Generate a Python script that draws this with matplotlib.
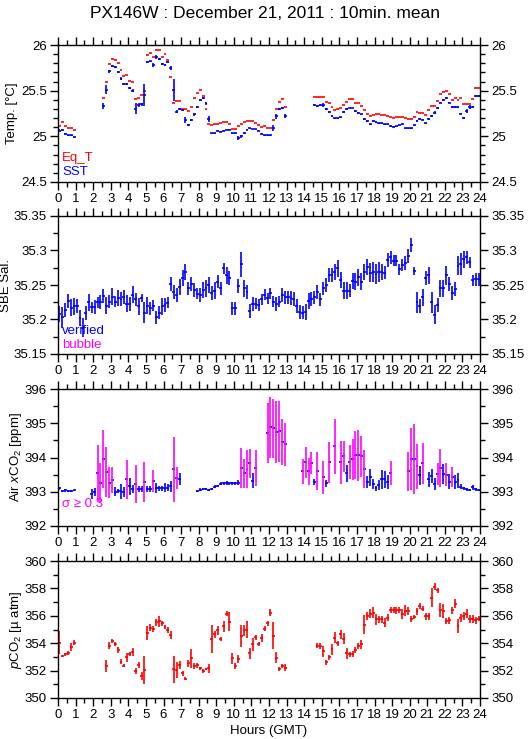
import numpy as np
import matplotlib
matplotlib.use("Agg")
import matplotlib.pyplot as plt
from matplotlib.ticker import MultipleLocator, FuncFormatter

plt.rcParams['font.family'] = ['Liberation Sans', 'DejaVu Sans']
plt.rcParams['mathtext.fontset'] = 'custom'
plt.rcParams['mathtext.rm'] = 'Liberation Sans'
plt.rcParams['mathtext.it'] = 'Liberation Sans:italic'

N = None
# 10-minute bins, 6 per hour (rows = hours 0..23)
sst = [
    25.06, 25.07, 25.03, 25.01, 25.01, 24.99,
    N, N, N, N, N, N,
    N, N, N, 25.33, 25.51, 25.71,
    25.77, 25.76, 25.70, 25.63, 25.57, 25.57,
    25.53, 25.50, 25.30, 25.34, 25.35, 25.45,
    25.81, 25.82, 25.78, 25.87, 25.85, 25.79,
    25.78, 25.81, 25.75, 25.51, 25.27, 25.30,
    25.29, 25.18, 25.12, 25.18, 25.24, 25.32,
    25.40, 25.42, 25.36, 25.19, 25.035, 25.035,
    25.06, 25.05, 25.06, 25.07, 25.07, 25.035,
    25.035, 24.98, 25.00, 25.035, 25.07, 25.09,
    25.08, 25.08, 25.06, 25.03, 25.01, 25.01,
    25.01, 25.09, 25.22, 25.30, 25.31, 25.22,
    N, N, N, N, N, N,
    N, N, N, 25.34, 25.33, 25.34,
    25.34, 25.30, 25.27, 25.22, 25.20, 25.20,
    25.21, 25.27, 25.30, 25.31, 25.31, 25.28,
    25.26, 25.24, 25.19, 25.17, 25.13, 25.17,
    25.16, 25.145, 25.145, 25.13, 25.13, 25.11,
    25.105, 25.11, 25.12, 25.13, 25.09, 25.09,
    25.09, 25.12, 25.17, 25.19, 25.18, 25.145,
    25.19, 25.22, 25.26, 25.31, 25.37, 25.40,
    25.42, 25.37, 25.32, 25.32, 25.32, 25.25,
    25.20, 25.28, 25.32, 25.32, 25.44, 25.44,
]
sst_sd = [
    0.015, 0.01, 0.01, 0.01, 0.01, 0.005,
    N, N, N, N, N, N,
    N, N, N, 0.03, 0.05, 0.02,
    0.01, 0.01, 0.01, 0.015, 0.01, 0.01,
    0.01, 0.02, 0.06, 0.02, 0.02, 0.12,
    0.01, 0.01, 0.02, 0.02, 0.01, 0.01,
    0.01, 0.01, 0.02, 0.12, 0.015, 0.01,
    0.01, 0.03, 0.01, 0.015, 0.02, 0.01,
    0.01, 0.01, 0.015, 0.03, 0.005, 0.005,
    0.005, 0.005, 0.005, 0.005, 0.005, 0.005,
    0.005, 0.02, 0.015, 0.01, 0.005, 0.005,
    0.005, 0.005, 0.005, 0.005, 0.005, 0.005,
    0.005, 0.03, 0.03, 0.015, 0.01, 0.02,
    N, N, N, N, N, N,
    N, N, N, 0.01, 0.01, 0.01,
    0.02, 0.01, 0.01, 0.01, 0.005, 0.005,
    0.005, 0.01, 0.01, 0.005, 0.005, 0.01,
    0.01, 0.01, 0.01, 0.01, 0.01, 0.01,
    0.01, 0.005, 0.005, 0.005, 0.005, 0.005,
    0.005, 0.005, 0.005, 0.01, 0.005, 0.005,
    0.005, 0.005, 0.01, 0.01, 0.005, 0.005,
    0.01, 0.01, 0.015, 0.015, 0.01, 0.01,
    0.01, 0.01, 0.01, 0.01, 0.01, 0.01,
    0.015, 0.02, 0.02, 0.015, 0.01, 0.01,
]
eqt = [
    25.11, 25.155, 25.11, 25.09, 25.09, 25.07,
    N, N, N, N, N, N,
    N, N, N, 25.42, 25.59, 25.79,
    25.85, 25.84, 25.80, 25.73, 25.66, 25.67,
    25.61, 25.59, 25.41, 25.42, 25.45, 25.50,
    25.89, 25.91, 25.865, 25.94, 25.94, 25.87,
    25.90, 25.84, 25.65, 25.36, 25.385, 25.385,
    25.30, 25.30, 25.28, 25.32, 25.42, 25.47,
    25.51, 25.44, 25.30, 25.13, 25.12, 25.14,
    25.13, 25.145, 25.16, 25.155, 25.13, 25.08,
    25.08, 25.11, 25.14, 25.16, 25.17, 25.17,
    25.17, 25.15, 25.12, 25.10, 25.11, 25.09,
    25.09, 25.175, 25.30, 25.38, 25.41, 25.32,
    N, N, N, N, N, N,
    N, N, N, 25.43, 25.43, 25.435,
    25.435, 25.38, 25.36, 25.32, 25.29, 25.30,
    25.31, 25.34, 25.38, 25.41, 25.41, 25.36,
    25.36, 25.33, 25.29, 25.25, 25.22, 25.235,
    25.25, 25.24, 25.23, 25.23, 25.22, 25.21,
    25.20, 25.21, 25.21, 25.21, 25.20, 25.19,
    25.19, 25.21, 25.27, 25.26, 25.26, 25.235,
    25.29, 25.33, 25.33, 25.39, 25.46, 25.48,
    25.50, 25.46, 25.40, 25.42, 25.40, 25.42,
    25.35, 25.35, 25.35, 25.41, 25.53, 25.53,
]
sal = [
    35.208, 35.203, 35.214, 35.227, 35.217, 35.219,
    35.219, 35.202, 35.188, 35.209, 35.225, 35.218,
    35.218, 35.225, 35.225, 35.234, 35.220, 35.226,
    35.233, 35.226, 35.231, 35.230, 35.233, 35.223,
    35.223, 35.236, 35.229, 35.219, 35.231, 35.210,
    35.220, 35.216, 35.220, 35.203, 35.210, 35.219,
    35.221, 35.224, 35.251, 35.240, 35.236, 35.247,
    35.260, 35.269, 35.245, 35.251, 35.243, 35.237,
    35.236, 35.243, 35.245, 35.250, 35.238, 35.242,
    35.255, 35.245, 35.274, 35.264, 35.260, 35.216,
    35.216, 35.249, 35.280, 35.245, 35.240, 35.212,
    35.222, 35.223, 35.221, 35.229, 35.236, 35.231,
    35.238, 35.226, 35.222, 35.226, 35.236, 35.232,
    35.232, 35.231, 35.230, 35.219, 35.211, 35.210,
    35.211, 35.227, 35.230, 35.232, 35.240, 35.229,
    35.245, 35.250, 35.264, 35.264, 35.269, 35.274,
    35.257, 35.242, 35.242, 35.242, 35.256, 35.255,
    35.261, 35.255, 35.269, 35.276, 35.268, 35.269,
    35.266, 35.269, 35.269, 35.268, 35.286, 35.290,
    35.285, 35.285, 35.273, 35.279, 35.282, 35.292,
    35.308, 35.270, 35.225, 35.220, 35.232, 35.260,
    35.264, 35.225, 35.207, 35.221, 35.245, 35.245,
    35.264, 35.252, 35.238, 35.244, 35.278, 35.280,
    35.287, 35.290, 35.283, 35.257, 35.258, 35.258,
]
sal_sd = [
    0.012, 0.015, 0.010, 0.010, 0.012, 0.012,
    0.010, 0.012, 0.014, 0.010, 0.012, 0.008,
    0.010, 0.008, 0.010, 0.010, 0.012, 0.010,
    0.012, 0.008, 0.012, 0.010, 0.010, 0.012,
    0.010, 0.012, 0.010, 0.012, 0.006, 0.015,
    0.012, 0.010, 0.008, 0.010, 0.010, 0.012,
    0.010, 0.008, 0.010, 0.010, 0.010, 0.012,
    0.012, 0.012, 0.010, 0.010, 0.010, 0.008,
    0.010, 0.012, 0.012, 0.012, 0.010, 0.012,
    0.010, 0.010, 0.008, 0.012, 0.010, 0.010,
    0.010, 0.010, 0.018, 0.012, 0.010, 0.010,
    0.010, 0.008, 0.008, 0.008, 0.008, 0.008,
    0.008, 0.008, 0.010, 0.008, 0.010, 0.010,
    0.010, 0.010, 0.010, 0.010, 0.010, 0.010,
    0.012, 0.012, 0.010, 0.010, 0.010, 0.010,
    0.010, 0.010, 0.010, 0.010, 0.012, 0.012,
    0.012, 0.012, 0.012, 0.010, 0.012, 0.012,
    0.012, 0.012, 0.012, 0.012, 0.014, 0.014,
    0.014, 0.014, 0.012, 0.010, 0.010, 0.010,
    0.008, 0.008, 0.008, 0.008, 0.010, 0.010,
    0.010, 0.006, 0.015, 0.010, 0.012, 0.010,
    0.012, 0.015, 0.014, 0.010, 0.012, 0.012,
    0.014, 0.010, 0.010, 0.010, 0.014, 0.016,
    0.012, 0.010, 0.008, 0.008, 0.010, 0.010,
]
xco2 = [
    393.10, 393.03, 393.04, 393.03, 393.02, 393.04,
    N, N, N, N, N, 392.93,
    392.99, 393.54, 393.27, 393.95, 393.57, 393.27,
    393.33, 393.00, 393.02, 393.02, 393.00, 393.36,
    393.16, 393.08, 393.23, 393.08, 393.08, 393.28,
    393.08, 393.08, 393.31, 393.12, 393.10, 393.10,
    393.12, 393.12, 393.16, 393.66, 393.40, 393.37,
    N, N, N, N, N, 393.03,
    393.06, 393.08, 393.08, 393.06, 393.09, 393.15,
    393.17, 393.24, 393.25, 393.25, 393.25, 393.25,
    393.25, 393.27, 393.69, 393.54, 393.66, 393.83,
    393.32, 393.69, N, N, N, 394.71,
    394.88, 394.85, 394.74, 394.77, 394.45, 394.39,
    N, N, N, N, N, 393.60,
    393.86, 393.60, 393.83, 393.28, 393.60, N,
    393.42, 393.25, 393.86, N, 394.33, N,
    393.86, 394.04, 393.54, 393.86, 393.95, 394.06,
    394.06, 394.04, 393.66, 393.28, 393.42, 393.22,
    393.10, 393.19, 393.36, 393.36, 393.28, 393.54,
    N, N, N, N, N, 393.60,
    393.95, 393.95, 393.74, 393.48, 393.83, N,
    393.36, 393.45, 393.22, 393.52, 393.69, 393.52,
    393.50, 393.29, 393.43, 393.29, 393.34, 393.15,
    393.10, 393.07, 393.05, 393.13, 393.07, 393.05,
]
xco2_sd = [
    0.04, 0.03, 0.05, 0.03, 0.03, 0.02,
    N, N, N, N, N, 0.15,
    0.12, 0.83, 0.57, 0.85, 0.73, 0.44,
    0.38, 0.13, 0.07, 0.22, 0.15, 0.57,
    0.25, 0.12, 0.55, 0.09, 0.10, 0.58,
    0.08, 0.08, 0.32, 0.15, 0.08, 0.08,
    0.14, 0.10, 0.16, 0.95, 0.32, 0.18,
    N, N, N, N, N, 0.03,
    0.04, 0.03, 0.03, 0.03, 0.03, 0.04,
    0.04, 0.04, 0.04, 0.05, 0.04, 0.04,
    0.04, 0.06, 0.58, 0.42, 0.55, 0.42,
    0.22, 0.52, N, N, N, 0.87,
    0.88, 0.86, 0.90, 0.89, 0.66, 0.63,
    N, N, N, N, N, 0.36,
    0.45, 0.40, 0.32, 0.08, 0.55, N,
    0.48, 0.10, 0.60, N, 0.80, N,
    0.63, 0.45, 0.25, 0.50, 0.60, 0.70,
    0.75, 0.60, 0.55, 0.18, 0.25, 0.15,
    0.08, 0.15, 0.28, 0.25, 0.20, 0.35,
    N, N, N, N, N, 0.57,
    0.90, 1.02, 0.65, 0.28, 0.60, N,
    0.22, 0.20, 0.18, 0.33, 0.55, 0.28,
    0.33, 0.22, 0.30, 0.20, 0.22, 0.07,
    0.05, 0.04, 0.04, 0.08, 0.04, 0.03,
]
pco2 = [
    354.05, 353.06, 353.18, 353.30, 353.74, 354.05,
    N, N, N, N, N, N,
    N, N, N, N, 352.33, 353.81,
    354.17, 353.93, 353.50, 352.65, 352.35, 352.96,
    353.18, 353.33, 351.97, 352.40, 351.63, 352.04,
    354.76, 355.12, 355.02, 355.53, 355.61, 355.44,
    355.19, 354.95, 354.59, 352.09, 352.04, 352.40,
    351.80, 351.41, 352.52, 352.89, 352.33, 352.38,
    352.16, 351.97, 352.11, 352.16, 354.32, 354.64,
    354.93, 354.30, 355.24, 356.16, 355.56, 352.89,
    352.33, 352.84, 354.54, 354.95, 355.00, 353.25,
    353.91, 354.42, 353.91, 354.37, 355.07, 355.44,
    356.21, 354.56, 352.94, 352.09, 352.35, 352.21,
    N, N, N, N, N, N,
    N, N, N, N, 353.83, 353.79,
    353.42, 352.60, 352.96, 353.57, 354.39, 353.98,
    354.64, 354.34, 353.25, 353.18, 353.20, 353.50,
    353.79, 353.91, 355.36, 356.00, 356.16, 356.21,
    355.75, 355.75, 355.75, 355.51, 355.85, 356.41,
    356.41, 356.41, 356.41, 356.12, 356.36, 356.36,
    355.75, 355.92, 356.33, 356.72, 356.53, 355.97,
    355.97, 357.33, 358.11, 357.86, 356.41, 356.33,
    355.61, 355.68, 356.41, 356.89, 355.24, 355.85,
    355.97, 356.16, 355.75, 355.78, 355.68, 355.80,
]
pco2_sd = [
    0.85, 0.10, 0.12, 0.15, 0.30, 0.15,
    N, N, N, N, N, N,
    N, N, N, N, 0.45, 0.25,
    0.12, 0.15, 0.20, 0.20, 0.10, 0.35,
    0.15, 0.30, 0.25, 0.20, 0.30, 1.00,
    0.50, 0.25, 0.20, 0.25, 0.40, 0.20,
    0.15, 0.20, 0.30, 1.00, 0.60, 0.30,
    0.20, 0.10, 0.25, 0.70, 0.20, 0.20,
    0.12, 0.15, 0.10, 0.35, 1.00, 0.25,
    0.30, 0.12, 0.40, 0.20, 0.70, 0.40,
    0.20, 0.30, 0.80, 0.40, 0.60, 0.40,
    0.45, 0.15, 0.15, 0.30, 0.20, 0.15,
    0.25, 1.00, 0.40, 0.15, 0.15, 0.25,
    N, N, N, N, N, N,
    N, N, N, N, 0.20, 0.20,
    0.40, 0.20, 0.15, 0.40, 0.40, 0.20,
    0.30, 0.40, 0.40, 0.20, 0.20, 0.20,
    0.20, 0.30, 0.70, 0.30, 0.35, 0.40,
    0.40, 0.25, 0.25, 0.35, 0.25, 0.20,
    0.20, 0.25, 0.20, 0.35, 0.40, 0.30,
    0.20, 0.15, 0.25, 0.20, 0.15, 0.25,
    0.25, 0.70, 0.25, 0.20, 0.50, 0.50,
    0.20, 0.25, 0.25, 0.30, 0.50, 0.30,
    0.30, 0.30, 0.30, 0.30, 0.25, 0.20,
]

hour_ticks = list(range(0, 25))
title = "PX146W : December 21, 2011 : 10min. mean"

def arr(v):
    return np.array([np.nan if a is None else a for a in v], dtype=float)

hours = (np.arange(144) + 0.5) / 6.0
half = 1.0 / 12.0
BLUE, RED, MAG = '#0000ff', '#ff0000', '#ff00ff'
LW = 1.2

W, H = 529, 739
fig = plt.figure(figsize=(W / 100, H / 100), dpi=100)
panels = [(45, 182), (216, 354), (389, 526), (561, 698)]
axes = []
for top, bot in panels:
    ax = fig.add_axes([58 / W, 1 - bot / H, 422 / W, (bot - top) / H])
    axes.append(ax)

fmt = FuncFormatter(lambda v, p: '%g' % round(v, 4))

def style(ax, ylim, major, minor, labx):
    ax.set_xlim(0, 24)
    ax.set_ylim(*ylim)
    ax.set_xticks(hour_ticks)
    ax.xaxis.set_minor_locator(MultipleLocator(0.5))
    ax.yaxis.set_major_locator(MultipleLocator(major))
    ax.yaxis.set_minor_locator(MultipleLocator(minor))
    ax.yaxis.set_major_formatter(fmt)
    ax.tick_params(which='both', direction='out', top=True, right=True,
                   labelright=True, labelsize=9.5, width=1, pad=2)
    ax.tick_params(which='major', length=6)
    ax.tick_params(which='minor', length=3.5)
    for s in ax.spines.values():
        s.set_linewidth(1)
    ax.yaxis.set_label_coords(labx, 0.5)

def bars(ax, y, sd, hcolor, vcolor):
    y = arr(y); sd = arr(sd)
    m = ~np.isnan(y)
    ax.hlines(y[m], hours[m] - half, hours[m] + half, colors=hcolor, lw=LW)
    vc = [c for c, k in zip(vcolor, m) if k] if isinstance(vcolor, list) else vcolor
    ax.vlines(hours[m], (y - sd)[m], (y + sd)[m], colors=vc, lw=LW)

# Panel 1
ax = axes[0]
style(ax, (24.5, 26), 0.5, 0.1, -0.095)
e = arr(eqt); m = ~np.isnan(e)
ax.hlines(e[m], hours[m] - half, hours[m] + half, colors=RED, lw=LW)
bars(ax, sst, sst_sd, BLUE, BLUE)
ax.set_ylabel("Temp. [°C]", fontsize=9.5)
ax.text(0.01, 0.175, "Eq_T", color=RED, transform=ax.transAxes, fontsize=9.5, va='center')
ax.text(0.01, 0.07, "SST", color=BLUE, transform=ax.transAxes, fontsize=9.5, va='center')

# Panel 2
ax = axes[1]
style(ax, (35.15, 35.35), 0.05, 0.025, -0.109)
bars(ax, sal, sal_sd, BLUE, BLUE)
ax.set_ylabel("SBE Sal.", fontsize=9.5)
ax.text(0.01, 0.165, "verified", color=BLUE, transform=ax.transAxes, fontsize=9.5, va='center')
ax.text(0.01, 0.065, "bubble", color=MAG, transform=ax.transAxes, fontsize=9.5, va='center')

# Panel 3
ax = axes[2]
style(ax, (392, 396), 1, 0.5, -0.081)
sdv = arr(xco2_sd)
vcols = [MAG if (not np.isnan(s) and s >= 0.3) else BLUE for s in sdv]
bars(ax, xco2, xco2_sd, BLUE, vcols)
ax.set_ylabel("Air $x$CO$_2$ [ppm]", fontsize=9.5)
ax.text(0.01, 0.16, "σ ≥ 0.3", color=MAG, transform=ax.transAxes, fontsize=9.5, va='center')

# Panel 4
ax = axes[3]
style(ax, (350, 360), 2, 1, -0.081)
bars(ax, pco2, pco2_sd, RED, RED)
ax.set_ylabel("$p$CO$_2$ [µ atm]", fontsize=9.5)
ax.set_xlabel("Hours (GMT)", fontsize=9.5, labelpad=3)

fig.text(0.5, 1 - 13 / H, title, ha='center', va='center', fontsize=12.5)
fig.savefig("out.png", dpi=100)
